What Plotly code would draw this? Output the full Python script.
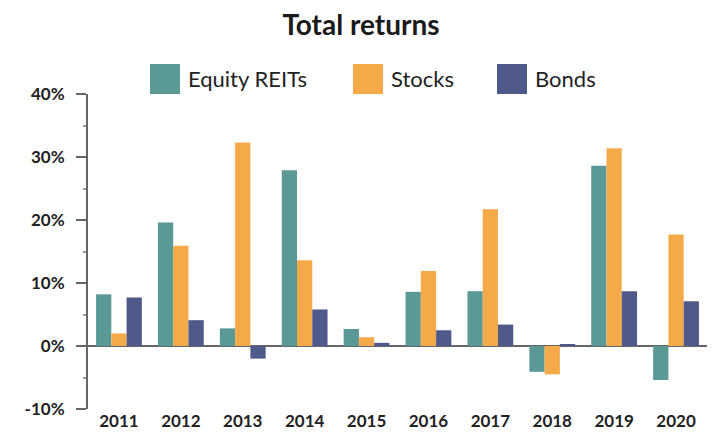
import plotly.graph_objects as go

years = ["2011", "2012", "2013", "2014", "2015", "2016", "2017", "2018", "2019", "2020"]
series_names = ["Equity REITs", "Stocks", "Bonds"]
reits = [8.2, 19.6, 2.8, 27.9, 2.7, 8.6, 8.7, -4.1, 28.6, -5.4]
stocks = [2.0, 15.9, 32.3, 13.6, 1.4, 11.9, 21.7, -4.5, 31.4, 17.7]
bonds = [7.7, 4.1, -2.0, 5.8, 0.5, 2.5, 3.4, 0.3, 8.7, 7.1]
colors = ["#5b9997", "#f5aa4a", "#4f5a8b"]
y_ticks = [-10, 0, 10, 20, 30, 40]
y_tick_labels = ["-10%", "0%", "10%", "20%", "30%", "40%"]

W, H = 715, 436
L, R, T, B = 88, 8, 94, 27
pw, ph = W - L - R, H - T - B

def px(x):
    return (x - L) / pw

def py(y):
    return (H - B - y) / ph

fig = go.Figure()
for name, vals, c in zip(series_names, [reits, stocks, bonds], colors):
    fig.add_trace(go.Bar(x=years, y=vals, name=name, marker=dict(color=c, line=dict(width=0)),
                         showlegend=False))

font_family = "Lato, 'Open Sans', sans-serif"

# manual legend (large squares)
legend_sq_x = [150, 353, 497]
shapes = []
annotations = []
for name, c, sx in zip(series_names, colors, legend_sq_x):
    shapes.append(dict(type="rect", xref="paper", yref="paper",
                       x0=px(sx), x1=px(sx + 30), y0=py(94), y1=py(64),
                       fillcolor=c, line=dict(width=0)))
    annotations.append(dict(text=name, xref="paper", yref="paper", x=px(sx + 36), y=py(79),
                            xanchor="left", yanchor="middle", showarrow=False,
                            font=dict(family=font_family, size=22, color="#222222")))

fig.update_layout(
    width=W, height=H,
    margin=dict(l=L, r=R, t=T, b=B, autoexpand=False),
    paper_bgcolor="white", plot_bgcolor="white",
    barmode="group", bargap=0.26, bargroupgap=0,
    title=dict(text="<b>Total returns</b>", xref="container", x=361 / W, xanchor="center",
               yref="container", y=1 - 25 / H, yanchor="middle",
               font=dict(family=font_family, size=28, color="#1a1a1a")),
    shapes=shapes, annotations=annotations,
    font=dict(family=font_family),
)
fig.update_xaxes(showline=False, showgrid=False, ticks="", zeroline=False,
                 tickfont=dict(family=font_family, size=17, color="#222222", weight="bold"))
fig.update_yaxes(range=[-10, 40], tickvals=y_ticks, ticktext=y_tick_labels,
                 showgrid=False, showline=True, linecolor="#666666", linewidth=2,
                 ticks="outside", ticklen=10, tickcolor="#666666", tickwidth=1.5,
                 ticklabelstandoff=8,
                 minor=dict(dtick=5, ticks="outside", ticklen=3, tickcolor="#999999"),
                 zeroline=True, zerolinecolor="#666666", zerolinewidth=2,
                 tickfont=dict(family=font_family, size=17, color="#222222", weight="bold"))

fig.write_html("out.html", config={"displayModeBar": False},
               post_script="document.body.style.margin='0';document.body.style.overflow='hidden';")
